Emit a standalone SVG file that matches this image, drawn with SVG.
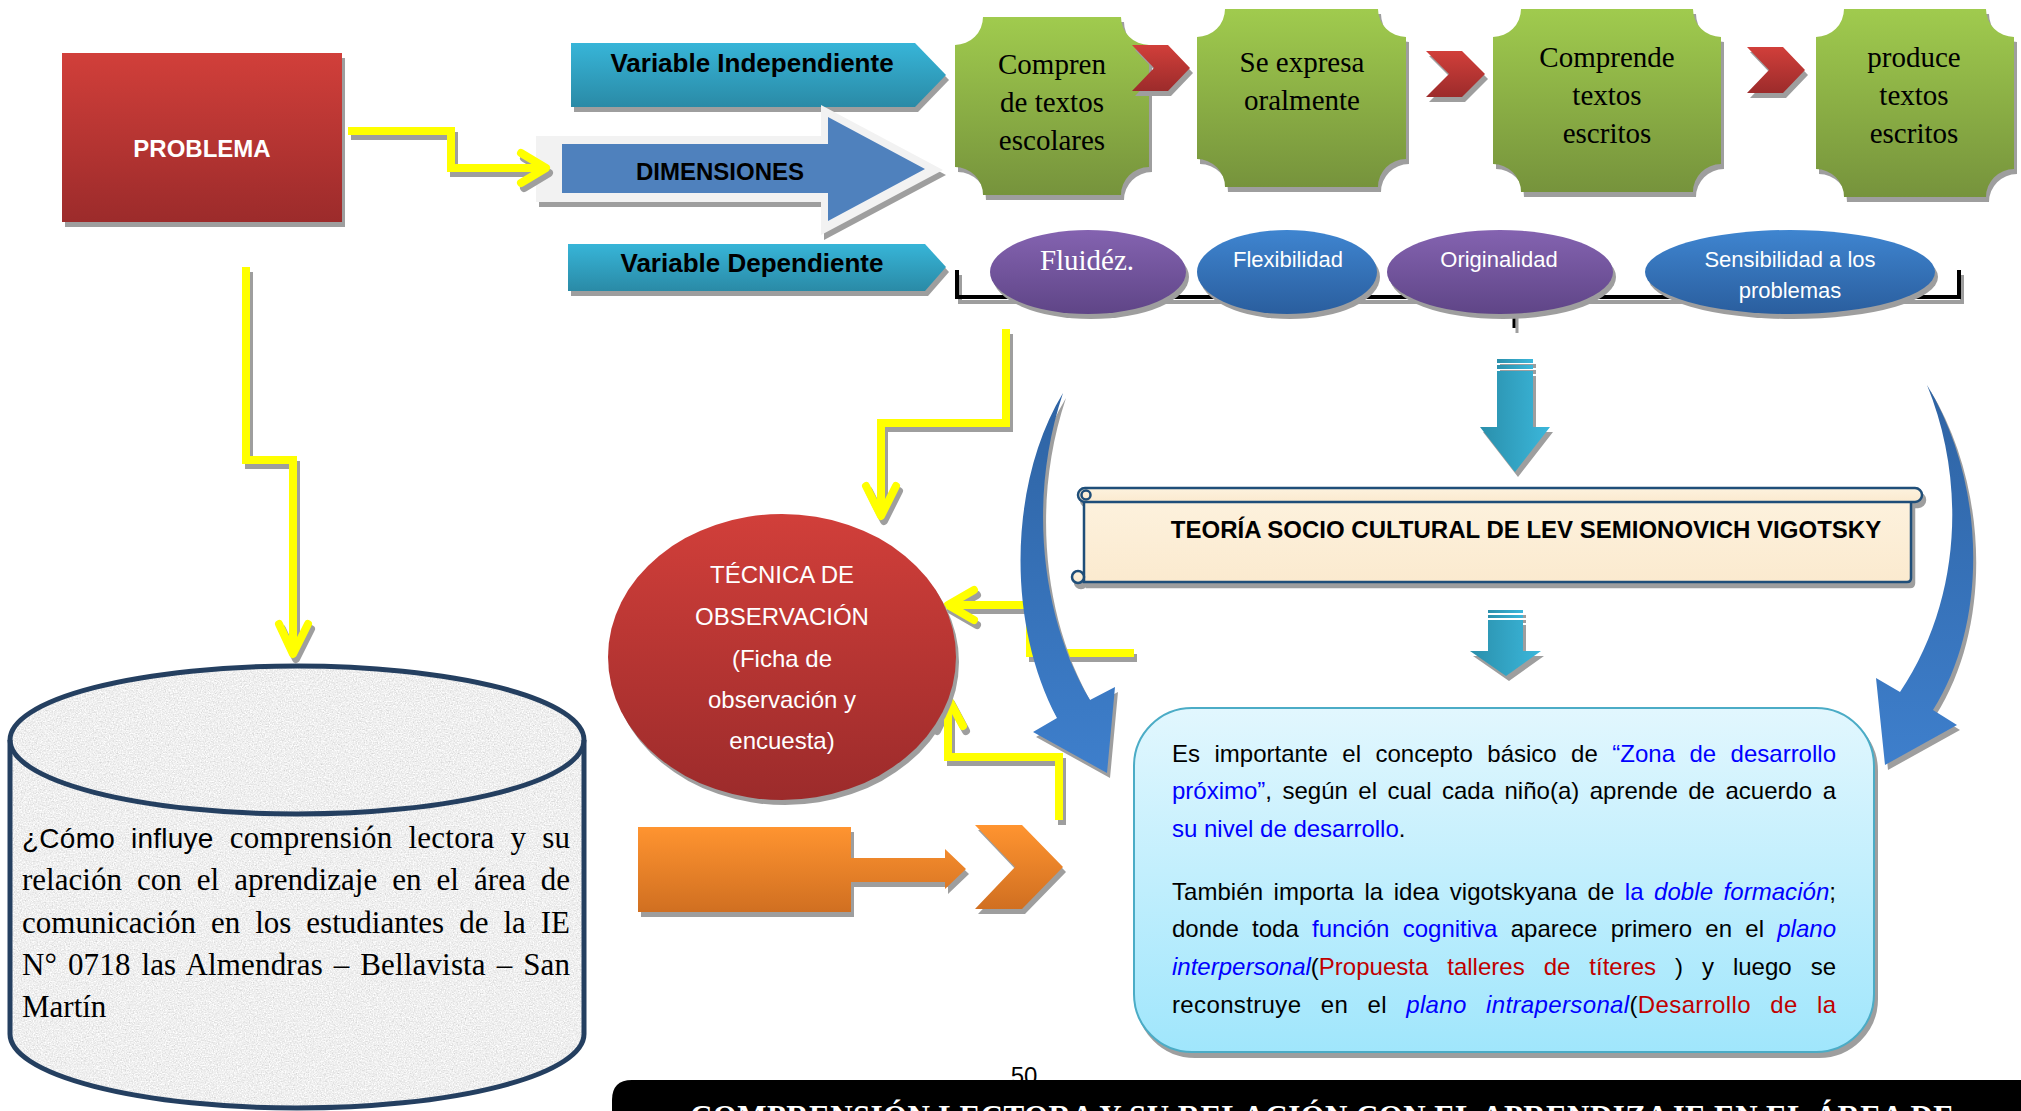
<svg xmlns="http://www.w3.org/2000/svg" width="2021" height="1111" viewBox="0 0 2021 1111">
<defs>
  <linearGradient id="gRed" x1="0" y1="0" x2="0" y2="1"><stop offset="0" stop-color="#D13F3A"/><stop offset="1" stop-color="#9C2B2B"/></linearGradient>
  <linearGradient id="gTeal" x1="0" y1="0" x2="0" y2="1"><stop offset="0" stop-color="#37B5D8"/><stop offset="1" stop-color="#2A8AA6"/></linearGradient>
  <linearGradient id="gGreen" x1="0" y1="0" x2="0" y2="1"><stop offset="0" stop-color="#A0CB4E"/><stop offset="1" stop-color="#76933C"/></linearGradient>
  <linearGradient id="gPurple" x1="0" y1="0" x2="0" y2="1"><stop offset="0" stop-color="#8463B0"/><stop offset="1" stop-color="#5F4587"/></linearGradient>
  <linearGradient id="gBlueE" x1="0" y1="0" x2="0" y2="1"><stop offset="0" stop-color="#3F85D0"/><stop offset="1" stop-color="#2A5E9E"/></linearGradient>
  <linearGradient id="gOrange" x1="0" y1="0" x2="0" y2="1"><stop offset="0" stop-color="#FF9430"/><stop offset="1" stop-color="#D06F21"/></linearGradient>
  <linearGradient id="gBox" x1="0" y1="0" x2="0" y2="1"><stop offset="0" stop-color="#E2F7FE"/><stop offset="1" stop-color="#A0E6FC"/></linearGradient>
  <linearGradient id="gCurve" x1="0" y1="0" x2="0" y2="1"><stop offset="0" stop-color="#2E63A3"/><stop offset="1" stop-color="#3E7FCC"/></linearGradient>
  <linearGradient id="gCyanA" x1="0" y1="0" x2="1" y2="0"><stop offset="0" stop-color="#2A8FAB"/><stop offset="1" stop-color="#3BB7DB"/></linearGradient>
  <linearGradient id="gCream" x1="0" y1="0" x2="0" y2="1"><stop offset="0" stop-color="#FDF2DE"/><stop offset="1" stop-color="#FBEACF"/></linearGradient>
  <filter id="ds" filterUnits="userSpaceOnUse" x="0" y="0" width="2021" height="1111" color-interpolation-filters="sRGB">
    <feOffset in="SourceAlpha" dx="3" dy="5" result="o"/>
    <feFlood flood-color="#9E9E9E"/>
    <feComposite in2="o" operator="in" result="s"/>
    <feMerge><feMergeNode in="s"/><feMergeNode in="SourceGraphic"/></feMerge>
  </filter>
  <filter id="granite" color-interpolation-filters="sRGB">
    <feTurbulence type="fractalNoise" baseFrequency="0.75" numOctaves="3" seed="4" result="n"/>
    <feColorMatrix in="n" type="matrix" values="0.33 0.33 0.33 0 0  0.33 0.33 0.33 0 0  0.33 0.33 0.33 0 0  0 0 0 0 1" result="g"/>
    <feComponentTransfer in="g" result="g2">
      <feFuncR type="linear" slope="0.42" intercept="0.73"/>
      <feFuncG type="linear" slope="0.42" intercept="0.73"/>
      <feFuncB type="linear" slope="0.42" intercept="0.73"/>
    </feComponentTransfer>
    <feComposite in="g2" in2="SourceAlpha" operator="in"/>
  </filter>
  <style>
    .sans{font-family:"Liberation Sans",Arial,sans-serif}
    .serif{font-family:"Liberation Serif","Times New Roman",serif}
    .yl{fill:none;stroke:#FFFF00;stroke-width:8;stroke-linejoin:miter}
    .yh{fill:none;stroke:#FFFF00;stroke-width:8;stroke-linecap:round;stroke-linejoin:round}
    .green{fill:url(#gGreen)}
    .chev{fill:url(#gRed)}
    .gtxt{font-family:"Liberation Serif","Times New Roman",serif;font-size:29px;fill:#000;text-anchor:middle}
    .etxt{font-family:"Liberation Sans",Arial,sans-serif;font-size:22px;fill:#fff;text-anchor:middle}
    .ctxt{font-family:"Liberation Sans",Arial,sans-serif;font-size:24px;fill:#fff;text-anchor:middle}
    .btxt{font-family:"Liberation Sans",Arial,sans-serif;font-size:24px;fill:#000}
    .cyl{font-family:"Liberation Serif","Times New Roman",serif;font-size:31px;fill:#000}
    .bl{fill:#0000FF}
    .rd{fill:#C00000}
    .it{font-style:italic}
  </style>
</defs>
<rect x="0" y="0" width="2021" height="1111" fill="#fff"/>

<!-- green boxes -->
<g id="box-comprende-escolares">
  <path class="green" filter="url(#ds)" d="M983,17 L1121,17 A28,28 0 0 0 1149,45 L1149,167 A28,28 0 0 0 1121,195 L983,195 A28,28 0 0 0 955,167 L955,45 A28,28 0 0 0 983,17 Z"/>
  <text class="gtxt" x="1052" y="74">Compren</text>
  <text class="gtxt" x="1052" y="112">de textos</text>
  <text class="gtxt" x="1052" y="150">escolares</text>
</g>
<g id="box-expresa">
  <path class="green" filter="url(#ds)" d="M1225,9 L1378,9 A28,28 0 0 0 1406,37 L1406,159 A28,28 0 0 0 1378,187 L1225,187 A28,28 0 0 0 1197,159 L1197,37 A28,28 0 0 0 1225,9 Z"/>
  <text class="gtxt" x="1302" y="72">Se expresa</text>
  <text class="gtxt" x="1302" y="110">oralmente</text>
</g>
<g id="box-comprende-escritos">
  <path class="green" filter="url(#ds)" d="M1521,9 L1693,9 A28,28 0 0 0 1721,37 L1721,164 A28,28 0 0 0 1693,192 L1521,192 A28,28 0 0 0 1493,164 L1493,37 A28,28 0 0 0 1521,9 Z"/>
  <text class="gtxt" x="1607" y="67">Comprende</text>
  <text class="gtxt" x="1607" y="105">textos</text>
  <text class="gtxt" x="1607" y="143">escritos</text>
</g>
<g id="box-produce">
  <path class="green" filter="url(#ds)" d="M1844,9 L1986,9 A28,28 0 0 0 2014,37 L2014,169 A28,28 0 0 0 1986,197 L1844,197 A28,28 0 0 0 1816,169 L1816,37 A28,28 0 0 0 1844,9 Z"/>
  <text class="gtxt" x="1914" y="67">produce</text>
  <text class="gtxt" x="1914" y="105">textos</text>
  <text class="gtxt" x="1914" y="143">escritos</text>
</g>

<!-- left column shapes -->
<g id="problema">
  <rect x="62" y="53" width="280" height="169" fill="url(#gRed)" filter="url(#ds)"/>
  <text class="sans" x="202" y="157" font-size="24" font-weight="bold" fill="#fff" text-anchor="middle">PROBLEMA</text>
</g>
<g id="var-independiente">
  <path d="M571,43 L915,43 L946,75 L915,107 L571,107 Z" fill="url(#gTeal)" filter="url(#ds)"/>
  <text class="sans" x="752" y="72" font-size="26" font-weight="bold" fill="#000" text-anchor="middle">Variable Independiente</text>
</g>
<g id="dimensiones">
  <path d="M536,136 L821,136 L821,105 L943,170 L821,235 L821,202 L536,202 Z" fill="#F2F2F2" filter="url(#ds)"/>
  <path d="M562,144 L828,144 L828,117 L925,169 L828,221 L828,193 L562,193 Z" fill="#4F81BD"/>
  <text class="sans" x="720" y="180" font-size="24" font-weight="bold" fill="#000" text-anchor="middle">DIMENSIONES</text>
</g>
<g id="var-dependiente">
  <path d="M568,244 L925,244 L946,267 L925,291 L568,291 Z" fill="url(#gTeal)" filter="url(#ds)"/>
  <text class="sans" x="752" y="272" font-size="26" font-weight="bold" fill="#000" text-anchor="middle">Variable Dependiente</text>
</g>

<!-- connectors -->
<g id="connectors">
  <g filter="url(#ds)">
    <path class="yl" d="M348,131 L451,131 L451,168 L544,168"/>
    <path class="yh" d="M521,153 L546,168 L521,183"/>
    <path class="yl" d="M246,267 L246,460 L293,460 L293,651"/>
    <path class="yh" d="M279,624 L293,654 L308,624"/>
    <path class="yl" d="M1006,329 L1006,423 L881,423 L881,514"/>
    <path class="yh" d="M866,486 L881,516 L896,486"/>
    <path class="yl" d="M1134,653 L1030,653 L1030,605 L951,605"/>
    <path class="yh" d="M974,590 L948,605 L974,620"/>
    <path class="yl" d="M1059,820 L1059,757 L948,757 L948,701"/>
    <path class="yh" d="M934,726 L948,698 L963,726"/>
  </g>
  <g filter="url(#ds)">
    <path class="chev" d="M1132,45 L1168,45 L1190,68 L1168,91 L1132,91 L1154,68 Z"/>
    <path class="chev" d="M1426,51 L1462,51 L1485,74 L1462,97 L1426,97 L1449,74 Z"/>
    <path class="chev" d="M1747,47 L1783,47 L1805,70 L1783,93 L1747,93 L1769,70 Z"/>
  </g>
  <g filter="url(#ds)" fill="none" stroke="#000">
    <path d="M957,270 L957,297 L1959,297 L1959,270" stroke-width="4"/>
    <path d="M1514,297 L1514,328" stroke-width="3"/>
  </g>
  <g filter="url(#ds)" fill="url(#gCurve)">
    <path d="M1063,393 C1010,480 1005,620 1057,718 L1033,732 L1107,773 L1115,687 L1090,700 C1042,620 1027,500 1063,393 Z"/>
    <path d="M1927,385 C1985,480 1990,620 1933,710 L1957,725 L1885,765 L1876,678 L1900,692 C1962,600 1966,480 1927,385 Z"/>
  </g>
  <g filter="url(#ds)" fill="url(#gCyanA)">
    <rect x="1497" y="359" width="36" height="4"/>
    <rect x="1497" y="365" width="36" height="4"/>
    <path d="M1497,371 L1533,371 L1533,427 L1550,427 L1515,472 L1480,427 L1497,427 Z"/>
    <rect x="1488" y="610" width="35" height="3"/>
    <rect x="1488" y="615" width="35" height="3"/>
    <path d="M1488,620 L1523,620 L1523,651 L1541,651 L1506,676 L1470,651 L1488,651 Z"/>
  </g>
</g>

<!-- ellipses -->
<g id="fluidez">
  <ellipse cx="1088" cy="272" rx="98" ry="42" fill="url(#gPurple)" filter="url(#ds)"/>
  <text class="serif" x="1087" y="270" font-size="29" fill="#fff" text-anchor="middle">Fluidéz.</text>
</g>
<g id="flexibilidad">
  <ellipse cx="1287" cy="272" rx="90" ry="42" fill="url(#gBlueE)" filter="url(#ds)"/>
  <text class="etxt" x="1288" y="267">Flexibilidad</text>
</g>
<g id="originalidad">
  <ellipse cx="1500" cy="272" rx="113" ry="42" fill="url(#gPurple)" filter="url(#ds)"/>
  <text class="etxt" x="1499" y="267">Originalidad</text>
</g>
<g id="sensibilidad">
  <ellipse cx="1790" cy="272" rx="145" ry="42" fill="url(#gBlueE)" filter="url(#ds)"/>
  <text class="etxt" x="1790" y="267">Sensibilidad a los</text>
  <text class="etxt" x="1790" y="298">problemas</text>
</g>

<!-- técnica -->
<g id="tecnica">
  <ellipse cx="782" cy="657" rx="174" ry="143" fill="url(#gRed)" filter="url(#ds)"/>
  <text class="ctxt" x="782" y="583">TÉCNICA DE</text>
  <text class="ctxt" x="782" y="625">OBSERVACIÓN</text>
  <text class="ctxt" x="782" y="667">(Ficha de</text>
  <text class="ctxt" x="782" y="708">observación y</text>
  <text class="ctxt" x="782" y="749">encuesta)</text>
</g>

<!-- cylinder -->
<g id="pregunta">
  <path d="M10,740 A287,74 0 0 1 584,740 L584,1034 A287,74 0 0 1 10,1034 Z" fill="#EEE" filter="url(#granite)"/>
  <path d="M10,740 L10,1034 A287,74 0 0 0 584,1034 L584,740" fill="none" stroke="#243F60" stroke-width="5"/>
  <ellipse cx="297" cy="740" rx="287" ry="74" fill="none" stroke="#243F60" stroke-width="5"/>
  <text class="cyl" x="22" y="848" textLength="548" lengthAdjust="spacing" word-spacing="8"><tspan font-family="Liberation Sans, Arial, sans-serif" font-size="28">¿Cómo influye</tspan> comprensión lectora y su</text>
  <text class="cyl" x="22" y="890" textLength="548" lengthAdjust="spacing" word-spacing="7.3">relación con el aprendizaje en el área de</text>
  <text class="cyl" x="22" y="933" textLength="548" lengthAdjust="spacing" word-spacing="7.2">comunicación en los estudiantes de la IE</text>
  <text class="cyl" x="22" y="975" textLength="548" lengthAdjust="spacing" word-spacing="3">N° 0718 las Almendras – Bellavista – San</text>
  <text class="cyl" x="22" y="1017">Martín</text>
</g>

<!-- scroll -->
<g id="teoria">
  <g filter="url(#ds)" fill="url(#gCream)" stroke="#1F4E79" stroke-width="2.5">
    <path d="M1084,495 L1084,582 L1907,582 Q1911,582 1911,578 L1911,500 Z"/>
    <rect x="1078" y="488" width="844" height="14" rx="7"/>
    <circle cx="1078" cy="577" r="6"/>
    <circle cx="1086" cy="495" r="4.5"/>
  </g>
  <text class="sans" x="1526" y="538" font-size="24" font-weight="bold" fill="#000" text-anchor="middle">TEORÍA SOCIO CULTURAL DE LEV SEMIONOVICH VIGOTSKY</text>
</g>

<!-- vigotsky box -->
<g id="vigotsky-box">
  <rect x="1134" y="708" width="740" height="344" rx="58" fill="url(#gBox)" stroke="#4BACC6" stroke-width="2" filter="url(#ds)"/>
  <text class="btxt" x="1172" y="762" textLength="664" lengthAdjust="spacing" word-spacing="7.8">Es importante el concepto básico de <tspan class="bl">“Zona de desarrollo</tspan></text>
  <text class="btxt" x="1172" y="799" textLength="664" lengthAdjust="spacing" word-spacing="3.8"><tspan class="bl">próximo”</tspan>, según el cual cada niño(a) aprende de acuerdo a</text>
  <text class="btxt" x="1172" y="837"><tspan class="bl">su nivel de desarrollo</tspan>.</text>
  <text class="btxt" x="1172" y="900" textLength="664" lengthAdjust="spacing" word-spacing="3.8">También importa la idea vigotskyana de <tspan class="bl">la </tspan><tspan class="bl it">doble formación</tspan>;</text>
  <text class="btxt" x="1172" y="937" textLength="664" lengthAdjust="spacing" word-spacing="6.6">donde toda <tspan class="bl">función cognitiva</tspan> aparece primero en el <tspan class="bl it">plano</tspan></text>
  <text class="btxt" x="1172" y="975" textLength="664" lengthAdjust="spacing" word-spacing="12.3"><tspan class="bl it">interpersonal</tspan>(<tspan class="rd">Propuesta talleres de títeres</tspan> ) y luego se</text>
  <text class="btxt" x="1172" y="1013" textLength="664" lengthAdjust="spacing" word-spacing="12.3">reconstruye en el <tspan class="bl it">plano intrapersonal</tspan>(<tspan class="rd">Desarrollo de la</tspan></text>
</g>

<!-- orange arrow -->
<g id="orange-arrow" filter="url(#ds)" fill="url(#gOrange)">
  <path d="M638,827 L851,827 L851,858 L945,858 L945,849 L966,869 L945,889 L945,882 L851,882 L851,912 L638,912 Z"/>
  <path d="M975,825 L1022,825 L1063,867 L1022,909 L975,909 L1015,867 Z"/>
</g>

<!-- footer -->
<g id="footer">
  <text class="sans" x="1024" y="1084" font-size="24" fill="#000" text-anchor="middle">50</text>
  <path d="M612,1111 L612,1100 Q612,1080 632,1080 L2021,1080 L2021,1111 Z" fill="#000"/>
  <text class="serif" x="690" y="1127" font-size="31" font-weight="bold" fill="#fff" textLength="1264" lengthAdjust="spacing">COMPRENSIÓN LECTORA Y SU RELACIÓN CON EL APRENDIZAJE EN EL ÁREA DE</text>
</g>
</svg>
